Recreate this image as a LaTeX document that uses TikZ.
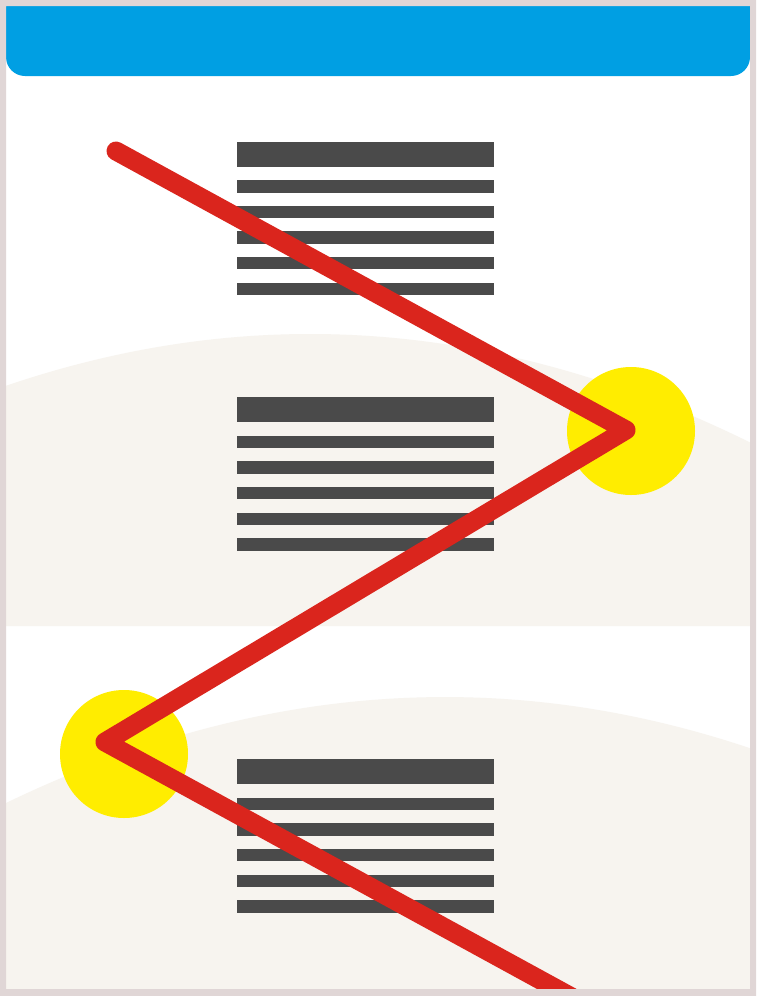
\documentclass[tikz,border=0pt]{standalone}
\definecolor{framec}{HTML}{E0D6D6}
\definecolor{hdrc}{HTML}{009FE3}
\definecolor{sandc}{HTML}{F7F4EF}
\definecolor{barc}{HTML}{4A4A4A}
\definecolor{sunc}{HTML}{FFED00}
\definecolor{zigc}{HTML}{DA251D}
\begin{document}
\begin{tikzpicture}[x=0.5pt,y=-0.5pt,
  sand/.style={fill=sandc},
  textbar/.style={fill=barc},
  sunspot/.style={circle,fill=sunc,inner sep=0pt,minimum size=64pt},
  zigzag/.style={draw=zigc,line width=9.5pt,line cap=round,line join=round}]
\useasboundingbox (0,0) rectangle (756,996);
\fill[white] (0,0) rectangle (756,996);
% beige hills
\fill[sand] (6,385.8) .. controls (254,301.3) and (502,320.2) .. (750,442.4) -- (750,626) -- (6,626) -- cycle;
\fill[sand] (6,803) .. controls (254,683.3) and (502,665) .. (750,748.2) -- (750,996) -- (6,996) -- cycle;
% text blocks
\foreach \y in {141.7,397.3,759.3}{
  \fill[textbar] (237.3,\y) rectangle (494,\y+25);
  \foreach \i in {0,...,4}{
    \fill[textbar] (237.3,\y+38.4+25.6*\i) rectangle (494,\y+50.9+25.6*\i);
  }
}
% yellow circles
\node[sunspot] (s1) at (631,431) {};
\node[sunspot] (s2) at (124,754) {};
% red zigzag
\coordinate (z0) at (116,151);
\coordinate (z1) at (626,430);
\coordinate (z2) at (105,742);
\coordinate (z3) at (588,1006);
\draw[zigzag] (z0) -- (z1) -- (z2) -- (z3);
% header
\fill[hdrc,rounded corners=9.5pt] (6,6) rectangle (750,76);
\fill[hdrc] (6,6) rectangle (750,40);
% frame
\fill[framec,even odd rule] (0,0) rectangle (756,996) (6,6) rectangle (750,989);
\end{tikzpicture}
\end{document}
